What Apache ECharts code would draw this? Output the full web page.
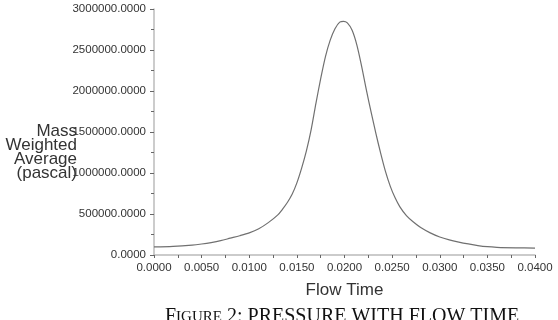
<!DOCTYPE html>
<html>
<head>
<meta charset="utf-8">
<script src="https://cdn.jsdelivr.net/npm/echarts@6/dist/echarts.min.js"></script>
<style>
  html, body { margin: 0; padding: 0; background: #fff; }
  #main { width: 558px; height: 320px; }
</style>
</head>
<body>
<div id="main"></div>
<script>
// flow time (s) and mass weighted average pressure (Pa)
var flowTime = [0.0000, 0.0020, 0.0040, 0.0050, 0.0060, 0.0070, 0.0080, 0.0090, 0.0100, 0.0110,
    0.0120, 0.0130, 0.0135, 0.0140, 0.0145, 0.0150, 0.0155, 0.0160, 0.0165, 0.0170,
    0.0175, 0.0180, 0.0185, 0.0190, 0.0195, 0.0199, 0.0203, 0.0208, 0.0213, 0.0218,
    0.0223, 0.0228, 0.0233, 0.0238, 0.0243, 0.0248, 0.0253, 0.0258, 0.0265, 0.0272,
    0.0280, 0.0290, 0.0300, 0.0310, 0.0320, 0.0330, 0.0340, 0.0350, 0.0360, 0.0380,
    0.0400];
var pressure = [98000, 104000, 120000, 134000, 152000, 175000, 205000, 235000, 270000, 320000,
    395000, 490000, 560000, 640000, 740000, 880000, 1060000, 1270000, 1530000, 1850000,
    2150000, 2420000, 2620000, 2760000, 2840000, 2850000, 2830000, 2740000, 2560000, 2300000,
    2010000, 1740000, 1480000, 1240000, 1020000, 840000, 700000, 590000, 480000, 405000,
    335000, 270000, 220000, 185000, 158000, 135000, 115000, 101000, 94000, 88000,
    85000];

var xTicks = { min: 0, max: 0.04, step: 0.005 };
var yTicks = { min: 0, max: 3000000, step: 500000 };

var points = [];
for (var i = 0; i < flowTime.length; i++) {
    points.push([flowTime[i], pressure[i]]);
}

var chart = echarts.init(document.getElementById('main'));
var tickColor = '#666';
var fmt = function (v) { return v.toFixed(4); };

chart.setOption({
    animation: false,
    backgroundColor: '#fff',
    title: {
        left: 160,
        top: 302,
        text: '{big|F}{small|IGURE}{big| 2: PRESSURE WITH FLOW TIME}',
        textStyle: {
            rich: {
                big: { fontFamily: 'Liberation Serif', fontSize: 20, fontWeight: 'normal', color: '#111' },
                small: { fontFamily: 'Liberation Serif', fontSize: 15, fontWeight: 'normal', color: '#111' }
            }
        }
    },
    graphic: [{
        type: 'text',
        x: 77,
        y: 124,
        style: {
            text: 'Mass\nWeighted\nAverage\n(pascal)',
            font: '17px "Liberation Sans"',
            lineHeight: 14,
            align: 'right',
            textAlign: 'right',
            fill: '#333'
        }
    }],
    grid: { left: 154, right: 23, top: 9, bottom: 65 },
    xAxis: {
        type: 'value',
        min: xTicks.min,
        max: xTicks.max,
        interval: xTicks.step,
        name: 'Flow Time',
        nameLocation: 'middle',
        nameGap: 27,
        nameTextStyle: { fontFamily: 'Liberation Sans', fontSize: 17, color: '#333' },
        axisLine: { lineStyle: { color: '#bbb', width: 1.5 } },
        axisTick: { length: 3, lineStyle: { color: tickColor } },
        minorTick: { show: true, splitNumber: 2, length: 3, lineStyle: { color: tickColor } },
        splitLine: { show: false },
        axisLabel: {
            fontFamily: 'Liberation Sans', fontSize: 11.5, color: '#333', margin: 7,
            formatter: fmt
        }
    },
    yAxis: {
        type: 'value',
        min: yTicks.min,
        max: yTicks.max,
        interval: yTicks.step,
        axisLine: { show: true, lineStyle: { color: '#bbb', width: 1.5 } },
        axisTick: { show: true, length: 4, lineStyle: { color: tickColor } },
        minorTick: { show: true, splitNumber: 2, length: 3, lineStyle: { color: tickColor } },
        splitLine: { show: false },
        axisLabel: {
            fontFamily: 'Liberation Sans', fontSize: 11.5, color: '#333', margin: 8,
            formatter: fmt
        }
    },
    series: [{
        type: 'line',
        data: points,
        smooth: 0.3,
        showSymbol: false,
        lineStyle: { color: '#707070', width: 1.2 }
    }]
});
</script>
</body>
</html>
